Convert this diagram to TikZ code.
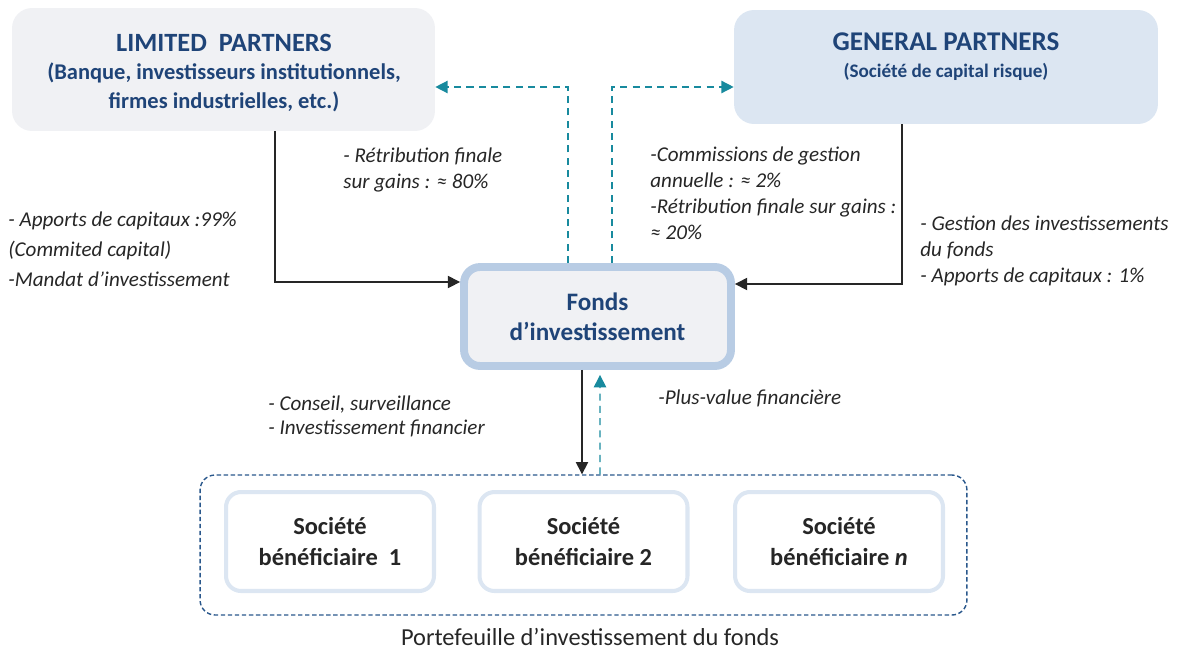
\documentclass[tikz,border=0pt]{standalone}
\usepackage{fontspec}
\setmainfont{Carlito}
\usetikzlibrary{arrows.meta}
\definecolor{titleBlue}{RGB}{31,68,120}
\definecolor{flowTeal}{RGB}{24,138,158}
\definecolor{frameBlue}{RGB}{42,88,140}
\definecolor{edgeBlue}{RGB}{184,204,228}
\definecolor{paleBlue}{RGB}{220,230,242}
\definecolor{paleGray}{RGB}{240,241,244}
\definecolor{inkGray}{RGB}{38,38,38}

\begin{document}
\begin{tikzpicture}[x=0.02cm,y=-0.02cm,
  partybox/.style={rounded corners=0.4cm,inner sep=0pt},
  subbox/.style={draw=paleBlue,fill=white,line width=2.3pt,rounded corners=0.3cm,minimum width=4.16cm,minimum height=1.98cm,align=center,font=\bfseries\fontsize{13.9}{17.5}\selectfont\color{inkGray}},
  flow/.style={draw=inkGray,line width=0.8pt,-{Triangle[length=7pt,width=7pt]}},
  back/.style={draw=flowTeal,line width=0.8pt,dash pattern=on 4pt off 3pt,-{Triangle[length=7pt,width=7pt]}},
  note/.style={anchor=north west,inner sep=0pt,align=left,font=\itshape\fontsize{12}{14.7}\selectfont\color{inkGray}}]
\useasboundingbox (0,0) rectangle (1179,650);

% partners
\node[partybox,fill=paleGray,minimum width=8.46cm,minimum height=2.46cm] (lp) at (223.5,69.5) {};
\node[partybox,fill=paleBlue,minimum width=8.48cm,minimum height=2.28cm] (gp) at (946,67) {};
\node[align=center,font=\bfseries\fontsize{12.8}{16}\selectfont\color{titleBlue}] (lptxt) at (224,73)
  {{\fontsize{15}{16}\selectfont LIMITED\ \ PARTNERS}\\(Banque, investisseurs institutionnels,\\firmes industrielles, etc.)};
\node[font=\bfseries\fontsize{15.4}{17}\selectfont\color{titleBlue}] (gptitle) at (946,42) {GENERAL PARTNERS};
\node[font=\bfseries\fontsize{10.9}{12}\selectfont\color{titleBlue}] (gpsub) at (946,72) {(Société de capital risque)};

% fund
\node[draw=edgeBlue,fill=paleGray,line width=4.5pt,rounded corners=0.32cm,minimum width=5.34cm,minimum height=1.98cm,
  align=center,font=\bfseries\fontsize{14.3}{17}\selectfont\color{titleBlue}] (fonds) at (597.5,316.5) {Fonds\\d’investissement};

% portfolio
\node[draw=frameBlue,line width=0.8pt,dash pattern=on 2.5pt off 1.5pt,rounded corners=0.3cm,minimum width=15.34cm,minimum height=2.8cm] (port) at (583.5,545) {};
\node[subbox] (soc1) at (330,541.5) {Société\\bénéficiaire\ \ 1};
\node[subbox] (soc2) at (583.5,541.5) {Société\\bénéficiaire 2};
\node[subbox] (socn) at (839,541.5) {Société\\bénéficiaire \textit{n}};
\node[font=\fontsize{13.9}{15}\selectfont\color{inkGray}] (portcap) at (590,637) {Portefeuille d’investissement du fonds};

% connectors
\draw[flow] ([xshift=1.03cm]lp.south) |- ([yshift=0.69cm]fonds.west);
\draw[flow] ([xshift=-0.88cm]gp.south) |- ([yshift=0.65cm]fonds.east);
\draw[back] ([xshift=-0.59cm]fonds.north) |- ([yshift=-0.35cm]lp.east);
\draw[back] ([xshift=0.29cm]fonds.north) |- ([yshift=-0.4cm]gp.west);
\draw[flow] ([xshift=-0.31cm]fonds.south) coordinate (down) -- (down |- port.north);
\draw[back] ([xshift=0.33cm]port.north) -- ([xshift=0.05cm,yshift=-0.1cm]fonds.south);

% labels
\node[note] (ret80) at (343,148) {- Rétribution finale\\sur gains : ≈ 80\%};
\node[note,font=\itshape\fontsize{12}{17}\selectfont\color{inkGray}] (apport99) at (8,212) {- Apports de capitaux :99\%\\(Commited capital)\\-Mandat d’investissement};
\node[note] (comm) at (650,147) {-Commissions de gestion\\annuelle : ≈ 2\%\\-Rétribution finale sur gains :\\≈ 20\%};
\node[note] (gestion) at (920,216) {- Gestion des investissements\\du fonds\\- Apports de capitaux : 1\%};
\node[note,font=\itshape\fontsize{12}{14.2}\selectfont\color{inkGray}] (conseil) at (268,395) {- Conseil, surveillance\\- Investissement financier};
\node[note] (plusval) at (658,389) {-Plus-value financière};
\end{tikzpicture}
\end{document}
